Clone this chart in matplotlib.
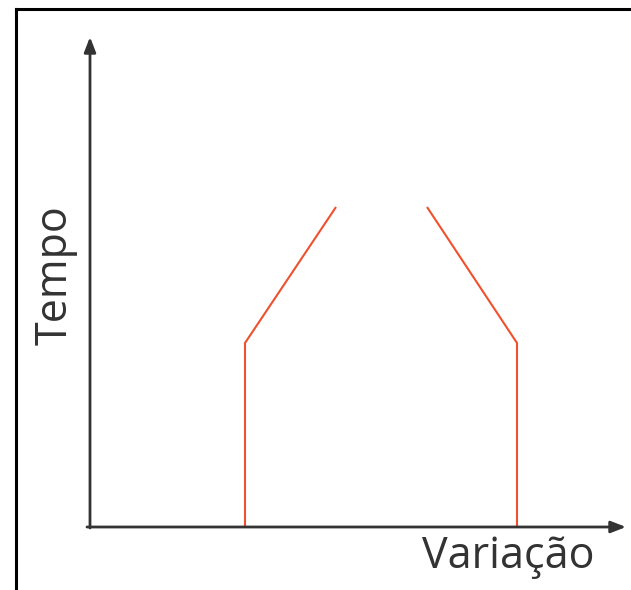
"""
Tempo vs Variacao sketch
"""
import matplotlib.pyplot as plt
from matplotlib.lines import Line2D

# axis extents (arbitrary units)
x_end = 536
y_end = 490

# left branch and right branch of the curve
left_x = [155, 155, 246]
left_y = [0, 184, 320]
right_x = [337, 427, 427]
right_y = [320, 184, 0]

fig = plt.figure(figsize=(6.31, 5.90), dpi=100)
ax = fig.add_axes([90 / 631, 63 / 590, 541 / 631, 500 / 590])
ax.set_xlim(0, 541)
ax.set_ylim(0, 500)
ax.axis('off')

# frame on top and left
fig.add_artist(Line2D([16 / 631, 16 / 631], [0, 1 - 9 / 590], color='black', lw=2.2))
fig.add_artist(Line2D([16 / 631, 1], [1 - 9 / 590, 1 - 9 / 590], color='black', lw=2.2))

axis_color = '#333333'
arrow = dict(arrowstyle='-|>,head_length=0.9,head_width=0.35', color=axis_color,
             lw=2, shrinkA=0, shrinkB=0)
ax.annotate('', xy=(x_end, 0), xytext=(-3, 0), arrowprops=arrow)
ax.annotate('', xy=(0, y_end), xytext=(0, -1), arrowprops=arrow)

red = '#f0502c'
ax.plot(left_x, left_y, color=red, lw=1.5, solid_capstyle='butt')
ax.plot(right_x, right_y, color=red, lw=1.5, solid_capstyle='butt')

fig.text(508 / 631, 1 - 557 / 590, 'Variação', fontsize=31, family='Open Sans',
         color='#333333', ha='center', va='center')
fig.text(55 / 631, 1 - 275 / 590, 'Tempo', fontsize=31, family='Open Sans',
         color='#333333', ha='center', va='center', rotation=90)

fig.savefig('out.png', dpi=100)
